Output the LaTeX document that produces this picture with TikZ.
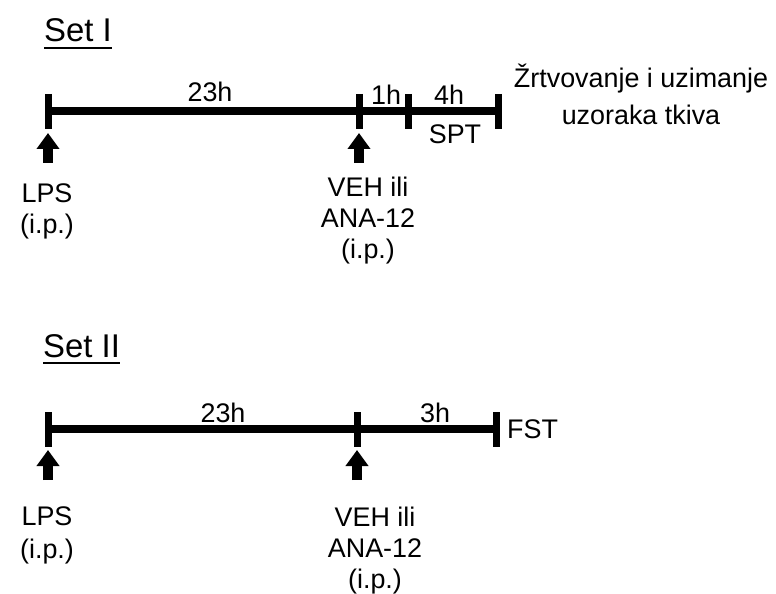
\documentclass[tikz,border=0pt]{standalone}
\usepackage{fontspec}
\setmainfont{Liberation Sans}
\usetikzlibrary{arrows.meta}
\begin{document}
\begin{tikzpicture}[x=1bp,y=-1bp,
  bar/.style={line width=8bp},
  tick/.style={line width=7bp},
  uparrow/.style={line width=10bp,-{Triangle[width=22bp,length=16bp]}},
  lbl/.style={font=\fontsize{27}{31}\selectfont,inner sep=0pt,align=center},
  ttl/.style={font=\fontsize{33}{38}\selectfont,inner sep=0pt},
  ul/.style={line width=2bp}]
\useasboundingbox (0,0) rectangle (776,594);
% ---------- Set I ----------
\node[ttl,anchor=base west] (t1) at (44,42) {Set I};
\draw[ul] ([yshift=-6bp]t1.base west) -- ([yshift=-6bp]t1.base east);
\coordinate (a0) at (48,111);
\coordinate (a1) at (359,111);
\coordinate (a2) at (408,111);
\coordinate (a3) at (498,111);
\draw[bar] (a0) -- (a3);
\foreach \c in {a0,a1,a2,a3}{
  \draw[tick] ([yshift=17bp]\c) -- ([yshift=-18bp]\c);
}
\coordinate (p0) at (48,163);
\coordinate (q0) at (48,133);
\coordinate (p1) at (359,163);
\coordinate (q1) at (359,133);
\draw[uparrow] (p0) -- (q0);
\draw[uparrow] (p1) -- (q1);
\node[lbl,anchor=base] (h23a) at (210,102) {23h};
\node[lbl,anchor=base] (h1) at (386,105) {1h};
\node[lbl,anchor=base] (h4) at (449,105) {4h};
\node[lbl,anchor=base] (spt) at (455,144) {SPT};
\node[lbl,anchor=base,font=\fontsize{27}{38}\selectfont] (zr) at (641,125) {Žrtvovanje i uzimanje\\uzoraka tkiva};
\node[lbl,anchor=base] (lps1) at (47,233) {LPS\\(i.p.)};
\node[lbl,anchor=base] (veh1) at (368,258) {VEH ili\\ANA-12\\(i.p.)};
% ---------- Set II ----------
\node[ttl,anchor=base west] (t2) at (43,357) {Set II};
\draw[ul] ([yshift=-6bp]t2.base west) -- ([yshift=-6bp]t2.base east);
\coordinate (b0) at (48,429);
\coordinate (b1) at (357,429);
\coordinate (b2) at (496,429);
\draw[bar] (b0) -- (b2);
\foreach \c in {b0,b1,b2}{
  \draw[tick] ([yshift=17bp]\c) -- ([yshift=-18bp]\c);
}
\coordinate (r0) at (48,480);
\coordinate (s0) at (48,450);
\coordinate (r1) at (357,480);
\coordinate (s1) at (357,450);
\draw[uparrow] (r0) -- (s0);
\draw[uparrow] (r1) -- (s1);
\node[lbl,anchor=base] (h23b) at (223,422) {23h};
\node[lbl,anchor=base] (h3) at (435,422) {3h};
\node[lbl,anchor=west] (fst) at (507,429) {FST};
\node[lbl,anchor=base,font=\fontsize{27}{33}\selectfont] (lps2) at (47,558) {LPS\\(i.p.)};
\node[lbl,anchor=base] (veh2) at (375,588) {VEH ili\\ANA-12\\(i.p.)};
\end{tikzpicture}
\end{document}
